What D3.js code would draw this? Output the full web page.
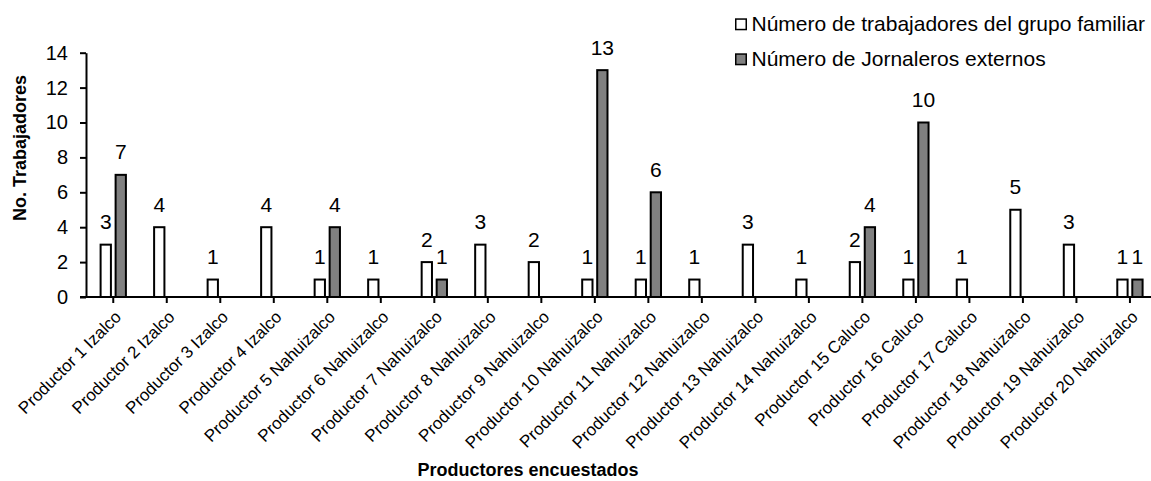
<!DOCTYPE html>
<html>
<head>
<meta charset="utf-8">
<script src="https://cdn.jsdelivr.net/npm/d3@7"></script>
<style>
  html, body { margin: 0; padding: 0; background: #fff; }
  svg { display: block; font-family: "Liberation Sans", Arial, sans-serif; }
</style>
</head>
<body>
<svg id="chart" width="1151" height="481"></svg>
<script>
// Producers surveyed
const categories = [
  "Productor 1 Izalco", "Productor 2 Izalco", "Productor 3 Izalco", "Productor 4 Izalco",
  "Productor 5 Nahuizalco", "Productor 6 Nahuizalco", "Productor 7 Nahuizalco",
  "Productor 8 Nahuizalco", "Productor 9 Nahuizalco", "Productor 10 Nahuizalco",
  "Productor 11 Nahuizalco", "Productor 12 Nahuizalco", "Productor 13 Nahuizalco",
  "Productor 14 Nahuizalco", "Productor 15 Caluco", "Productor 16 Caluco",
  "Productor 17 Caluco", "Productor 18 Nahuizalco", "Productor 19 Nahuizalco",
  "Productor 20 Nahuizalco"
];

const seriesNames = [
  "Número de trabajadores del grupo familiar",
  "Número de Jornaleros externos"
];

// Family workers per producer
const familiares = [3, 4, 1, 4, 1, 1, 2, 3, 2, 1, 1, 1, 3, 1, 2, 1, 1, 5, 3, 1];
// Hired day labourers per producer
const jornaleros = [7, 0, 0, 0, 4, 0, 1, 0, 0, 13, 6, 0, 0, 0, 4, 10, 0, 0, 0, 1];

const yTicks = [0, 2, 4, 6, 8, 10, 12, 14];

const yTitle = "No. Trabajadores";
const xTitle = "Productores encuestados";

const svg = d3.select("#chart");
const W = 1151, H = 481;

const fills = ["#ffffff", "#808080"];

const x0 = d3.scaleBand()
  .domain(categories)
  .range([86.5, 86.5 + 53.51 * categories.length])
  .paddingInner(0).paddingOuter(0);

const bw = x0.bandwidth();
const x1 = d3.scaleBand()
  .domain([0, 1])
  .range([bw / 2 - 12.65, bw / 2 + 12.65])
  .paddingInner(0.313).paddingOuter(0);

const y = d3.scaleLinear().domain([0, 14]).range([297, 52.7]);

const rows = categories.map((c, i) => ({
  cat: c,
  vals: [familiares[i], jornaleros[i]]
}));

// Y axis
const yAxis = d3.axisLeft(y).tickValues(yTicks).tickSize(6).tickPadding(12).tickSizeOuter(0);
const gy = svg.append("g").attr("transform", "translate(86,0)").call(yAxis);
gy.select(".domain").attr("stroke", "#000").attr("stroke-width", 2);
gy.selectAll(".tick line").attr("stroke", "#000").attr("stroke-width", 2);
gy.selectAll(".tick text")
  .attr("font-size", 20)
  .attr("fill", "#000")
  .attr("font-family", "'Liberation Sans', Arial, sans-serif");

// Bars
const groups = svg.append("g").selectAll("g")
  .data(rows)
  .join("g")
  .attr("transform", d => `translate(${x0(d.cat)},0)`);

groups.selectAll("rect")
  .data(d => d.vals.map((v, k) => ({ v, k })).filter(e => e.v > 0))
  .join("rect")
  .attr("x", e => x1(e.k))
  .attr("width", x1.bandwidth())
  .attr("y", e => y(e.v))
  .attr("height", e => y(0) - y(e.v))
  .attr("fill", e => fills[e.k])
  .attr("stroke", "#000")
  .attr("stroke-width", 2);

// Value labels
groups.selectAll("text.val")
  .data(d => d.vals.map((v, k) => ({ v, k })).filter(e => e.v > 0))
  .join("text")
  .attr("class", "val")
  .attr("x", e => x1(e.k) + x1.bandwidth() / 2)
  .attr("y", e => y(e.v) - 15.5)
  .attr("text-anchor", "middle")
  .attr("font-size", 21)
  .attr("fill", "#000")
  .text(e => e.v);

// X axis
const xAxis = d3.axisBottom(x0).tickSize(6).tickSizeOuter(0).tickPadding(0);
const gx = svg.append("g").attr("transform", "translate(0,297)").call(xAxis);
gx.select(".domain").remove();
gx.selectAll(".tick line").attr("stroke", "#000").attr("stroke-width", 2);
gx.selectAll(".tick text")
  .attr("font-size", 17)
  .attr("fill", "#000")
  .attr("font-family", "'Liberation Sans', Arial, sans-serif")
  .attr("text-anchor", "end")
  .attr("y", 0)
  .attr("dy", 0)
  .attr("transform", "translate(9,21) rotate(-45)");

svg.append("line")
  .attr("x1", 80).attr("x2", W)
  .attr("y1", 297).attr("y2", 297)
  .attr("stroke", "#000").attr("stroke-width", 2);

// Axis titles
svg.append("text")
  .attr("transform", "translate(26,148) rotate(-90)")
  .attr("text-anchor", "middle")
  .attr("font-size", 18)
  .attr("font-weight", "bold")
  .text(yTitle);

svg.append("text")
  .attr("x", 528).attr("y", 476)
  .attr("text-anchor", "middle")
  .attr("font-size", 18)
  .attr("font-weight", "bold")
  .text(xTitle);

// Legend
const legend = svg.append("g").selectAll("g")
  .data(seriesNames)
  .join("g")
  .attr("transform", (d, i) => `translate(735,${18.3 + i * 35})`);

legend.append("rect")
  .attr("x", 0.75).attr("y", 0.75)
  .attr("width", 10.5).attr("height", 10.5)
  .attr("fill", (d, i) => fills[i])
  .attr("stroke", "#000")
  .attr("stroke-width", 1.5);

legend.append("text")
  .attr("x", 16.5).attr("y", 12.5)
  .attr("font-size", 21)
  .attr("fill", "#000")
  .text(d => d);
</script>
</body>
</html>
